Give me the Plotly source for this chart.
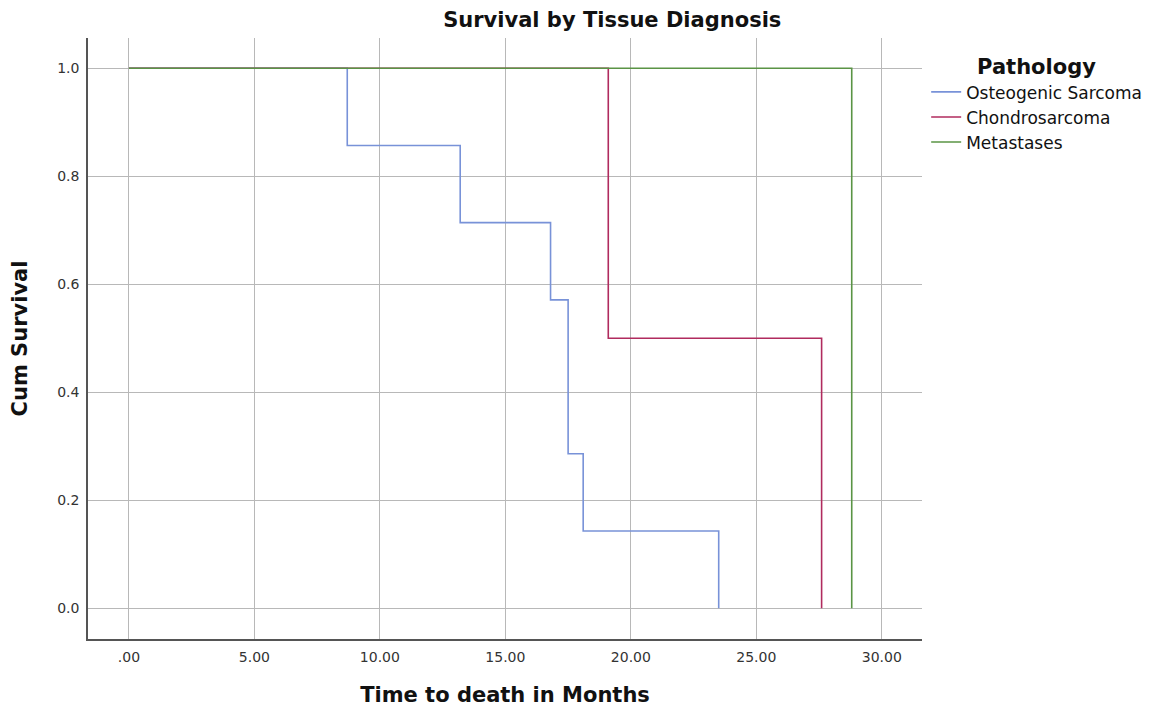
import plotly.graph_objects as go

# Data
osteo_time = [0, 8.7, 13.2, 16.8, 17.5, 18.1, 23.5]
osteo_surv = [1.0, 0.857, 0.714, 0.571, 0.286, 0.143, 0.0]
chondro_time = [0, 19.1, 27.6]
chondro_surv = [1.0, 0.5, 0.0]
meta_time = [0, 28.8]
meta_surv = [1.0, 0.0]

x_ticks = [0, 5, 10, 15, 20, 25, 30]
x_ticklabels = [".00", "5.00", "10.00", "15.00", "20.00", "25.00", "30.00"]
y_ticks = [0.0, 0.2, 0.4, 0.6, 0.8, 1.0]

FONT = "DejaVu Sans"

fig = go.Figure()
series = [
    ("Osteogenic Sarcoma", osteo_time, osteo_surv, "#7892d8"),
    ("Chondrosarcoma", chondro_time, chondro_surv, "#b02b5e"),
    ("Metastases", meta_time, meta_surv, "#5a9445"),
]
for name, xs, ys, col in series:
    fig.add_trace(go.Scatter(x=xs, y=ys, name=name, mode="lines",
                             line=dict(color=col, width=1.6, shape="hv")))

fig.update_layout(
    width=1164, height=710,
    margin=dict(l=88, r=242, t=38, b=71),
    paper_bgcolor="white", plot_bgcolor="white",
    font=dict(family=FONT, color="#222"),
    title=dict(text="<b>Survival by Tissue Diagnosis</b>", x=0.526, xanchor="center",
               y=0.972, yanchor="middle", font=dict(size=21, color="#111")),
    legend=dict(x=1.005, y=0.985, xanchor="left", yanchor="top",
                title=dict(text="<b>Pathology</b>", font=dict(size=21, color="#111"), side="top center"),
                font=dict(size=17, color="#111"), tracegroupgap=0, itemwidth=30),
    showlegend=True,
)
fig.update_xaxes(range=[-1.63, 31.6], tickvals=x_ticks, ticktext=x_ticklabels,
                 showgrid=True, gridcolor="#b8b8b8", gridwidth=1.2, zeroline=False,
                 showline=True, linecolor="#555", linewidth=1.5, ticks="",
                 tickfont=dict(size=14, color="#333"), automargin=False, ticklabelstandoff=4,
                 title=dict(text="<b>Time to death in Months</b>", font=dict(size=21, color="#111"), standoff=24))
fig.update_yaxes(range=[-0.057, 1.056], tickvals=y_ticks, tickformat=".1f",
                 showgrid=True, gridcolor="#b8b8b8", gridwidth=1.2, zeroline=False,
                 showline=True, linecolor="#555", linewidth=1.5, ticks="",
                 tickfont=dict(size=14, color="#333"), automargin=False, ticklabelstandoff=4,
                 title=dict(text="<b>Cum Survival</b>", font=dict(size=21, color="#111"), standoff=24))

fig.write_html("out.html", config={"displayModeBar": False},
               post_script="document.body.style.margin='0';")
